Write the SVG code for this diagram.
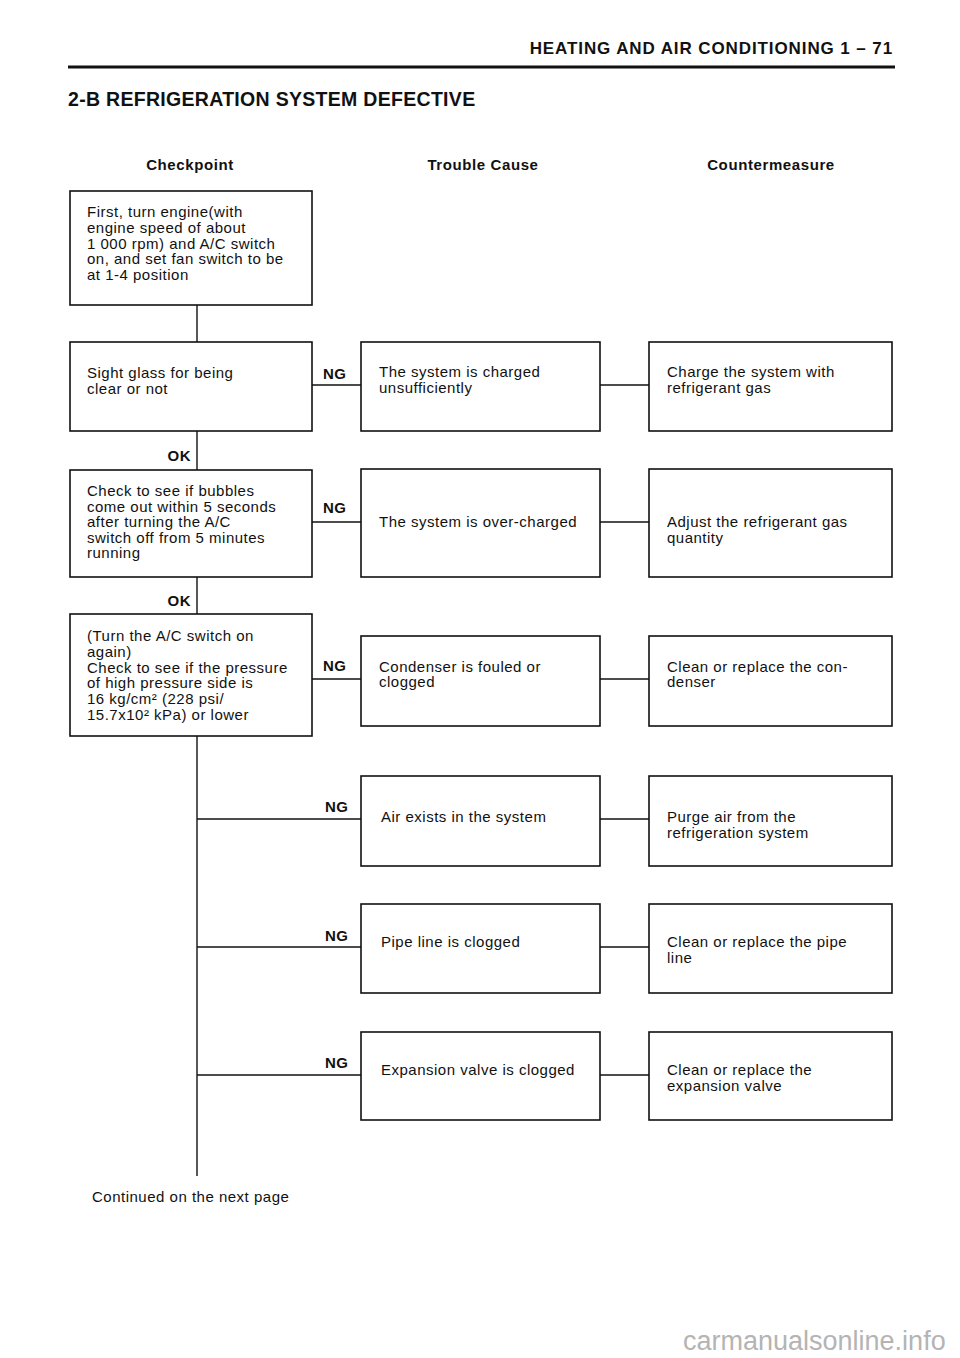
<svg xmlns="http://www.w3.org/2000/svg" width="960" height="1358" viewBox="0 0 960 1358">
<style>
.bg{fill:#fff}
.box{fill:#fff;stroke:#111;stroke-width:1.6}
.ln{stroke:#111;stroke-width:1.4;fill:none}
.t{font-family:"Liberation Sans",Arial,sans-serif;font-size:15px;letter-spacing:0.5px;fill:#111}
.b{font-family:"Liberation Sans",Arial,sans-serif;font-weight:bold;font-size:15px;letter-spacing:0.5px;fill:#111}
.hd{font-family:"Liberation Sans",Arial,sans-serif;font-weight:bold;font-size:15px;letter-spacing:0.6px;fill:#111;text-anchor:middle}
.wm{font-family:"Liberation Sans",Arial,sans-serif;font-size:27px;fill:#b4b4b4}
</style>
<rect class="bg" x="0" y="0" width="960" height="1358"/>

<g id="page-header">
<text x="893" y="54" text-anchor="end" style="font-family:'Liberation Sans',Arial,sans-serif;font-weight:bold;font-size:17px;letter-spacing:0.9px;fill:#111">HEATING AND AIR CONDITIONING 1 – 71</text>
<line x1="68" y1="67" x2="895" y2="67" stroke="#111" stroke-width="3"/>
<text x="68" y="106" style="font-family:'Liberation Sans',Arial,sans-serif;font-weight:bold;font-size:19.5px;letter-spacing:0.3px;fill:#111">2-B REFRIGERATION SYSTEM DEFECTIVE</text>
<text class="hd" x="190" y="170">Checkpoint</text>
<text class="hd" x="483" y="170">Trouble Cause</text>
<text class="hd" x="771" y="170">Countermeasure</text>
</g>

<g id="connectors">
<line class="ln" x1="197" y1="305" x2="197" y2="342"/>
<line class="ln" x1="197" y1="431" x2="197" y2="470"/>
<line class="ln" x1="197" y1="577" x2="197" y2="614"/>
<line class="ln" x1="197" y1="736" x2="197" y2="1176"/>
<line class="ln" x1="312" y1="385" x2="361" y2="385"/>
<line class="ln" x1="600" y1="385" x2="649" y2="385"/>
<line class="ln" x1="312" y1="522" x2="361" y2="522"/>
<line class="ln" x1="600" y1="522" x2="649" y2="522"/>
<line class="ln" x1="312" y1="679" x2="361" y2="679"/>
<line class="ln" x1="600" y1="679" x2="649" y2="679"/>
<line class="ln" x1="197" y1="819" x2="361" y2="819"/>
<line class="ln" x1="600" y1="819" x2="649" y2="819"/>
<line class="ln" x1="197" y1="947" x2="361" y2="947"/>
<line class="ln" x1="600" y1="947" x2="649" y2="947"/>
<line class="ln" x1="197" y1="1075" x2="361" y2="1075"/>
<line class="ln" x1="600" y1="1075" x2="649" y2="1075"/>
<text class="b" x="191" y="461" text-anchor="end">OK</text>
<text class="b" x="191" y="606" text-anchor="end">OK</text>
<text class="b" x="323" y="379">NG</text>
<text class="b" x="323" y="513">NG</text>
<text class="b" x="323" y="671">NG</text>
<text class="b" x="325" y="812">NG</text>
<text class="b" x="325" y="941">NG</text>
<text class="b" x="325" y="1068">NG</text>
</g>

<g id="check-start">
<rect class="box" x="70" y="191" width="242" height="114"/>
<text class="t" x="87" y="217">First, turn engine(with</text>
<text class="t" x="87" y="233">engine speed of about</text>
<text class="t" x="87" y="249">1 000 rpm) and A/C switch</text>
<text class="t" x="87" y="264">on, and set fan switch to be</text>
<text class="t" x="87" y="280">at 1-4 position</text>
</g>

<g id="check-sightglass">
<rect class="box" x="70" y="342" width="242" height="89"/>
<text class="t" x="87" y="378">Sight glass for being</text>
<text class="t" x="87" y="394">clear or not</text>
</g>

<g id="check-bubbles">
<rect class="box" x="70" y="470" width="242" height="107"/>
<text class="t" x="87" y="496">Check to see if bubbles</text>
<text class="t" x="87" y="512">come out within 5 seconds</text>
<text class="t" x="87" y="527">after turning the A/C</text>
<text class="t" x="87" y="543">switch off from 5 minutes</text>
<text class="t" x="87" y="558">running</text>
</g>

<g id="check-pressure">
<rect class="box" x="70" y="614" width="242" height="122"/>
<text class="t" x="87" y="641">(Turn the A/C switch on</text>
<text class="t" x="87" y="657">again)</text>
<text class="t" x="87" y="673">Check to see if the pressure</text>
<text class="t" x="87" y="688">of high pressure side is</text>
<text class="t" x="87" y="704">16 kg/cm² (228 psi/</text>
<text class="t" x="87" y="720">15.7x10²  kPa) or lower</text>
</g>

<g id="cause-1">
<rect class="box" x="361" y="342" width="239" height="89"/>
<text class="t" x="379" y="377">The system is charged</text>
<text class="t" x="379" y="393">unsufficiently</text>
</g>
<g id="fix-1">
<rect class="box" x="649" y="342" width="243" height="89"/>
<text class="t" x="667" y="377">Charge the system with</text>
<text class="t" x="667" y="393">refrigerant gas</text>
</g>

<g id="cause-2">
<rect class="box" x="361" y="469" width="239" height="108"/>
<text class="t" x="379" y="527">The system is over-charged</text>
</g>
<g id="fix-2">
<rect class="box" x="649" y="469" width="243" height="108"/>
<text class="t" x="667" y="527">Adjust the refrigerant gas</text>
<text class="t" x="667" y="543">quantity</text>
</g>

<g id="cause-3">
<rect class="box" x="361" y="636" width="239" height="90"/>
<text class="t" x="379" y="672">Condenser is fouled or</text>
<text class="t" x="379" y="687">clogged</text>
</g>
<g id="fix-3">
<rect class="box" x="649" y="636" width="243" height="90"/>
<text class="t" x="667" y="672">Clean or replace the con-</text>
<text class="t" x="667" y="687">denser</text>
</g>

<g id="cause-4">
<rect class="box" x="361" y="776" width="239" height="90"/>
<text class="t" x="381" y="822">Air exists in the system</text>
</g>
<g id="fix-4">
<rect class="box" x="649" y="776" width="243" height="90"/>
<text class="t" x="667" y="822">Purge air from the</text>
<text class="t" x="667" y="838">refrigeration system</text>
</g>

<g id="cause-5">
<rect class="box" x="361" y="904" width="239" height="89"/>
<text class="t" x="381" y="947">Pipe line is clogged</text>
</g>
<g id="fix-5">
<rect class="box" x="649" y="904" width="243" height="89"/>
<text class="t" x="667" y="947">Clean or replace the pipe</text>
<text class="t" x="667" y="963">line</text>
</g>

<g id="cause-6">
<rect class="box" x="361" y="1032" width="239" height="88"/>
<text class="t" x="381" y="1075">Expansion valve is clogged</text>
</g>
<g id="fix-6">
<rect class="box" x="649" y="1032" width="243" height="88"/>
<text class="t" x="667" y="1075">Clean or replace the</text>
<text class="t" x="667" y="1091">expansion valve</text>
</g>

<g id="footer">
<text class="t" x="92" y="1202">Continued on the next page</text>
<text class="wm" x="683" y="1350">carmanualsonline.info</text>
</g>
</svg>
